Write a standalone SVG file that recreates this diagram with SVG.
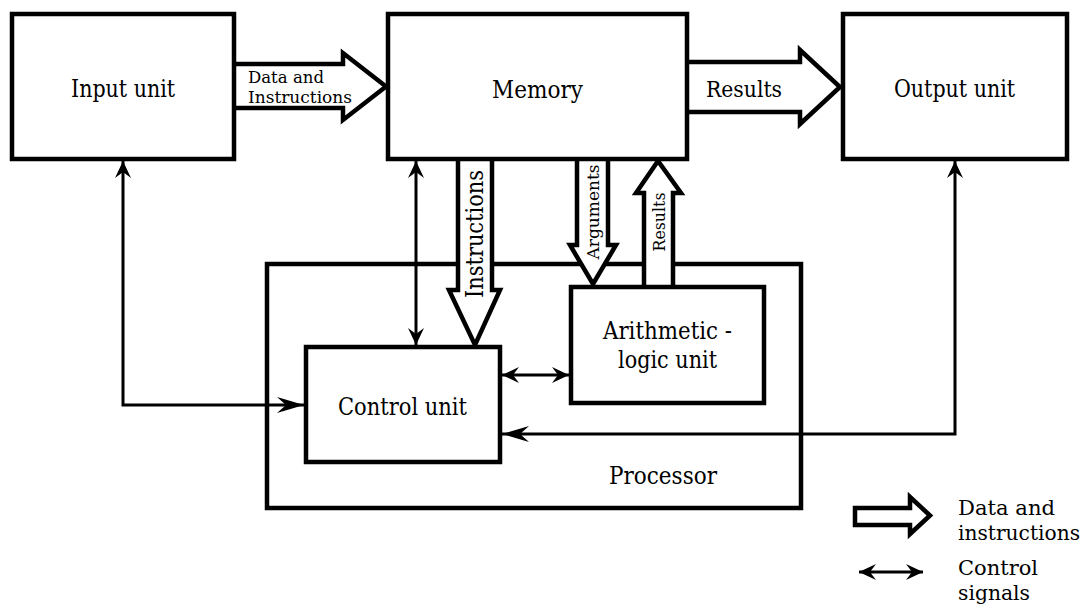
<svg xmlns="http://www.w3.org/2000/svg" width="1087" height="608" viewBox="0 0 1087 608">
<style>
.box{fill:#fff;stroke:#000;stroke-width:4.5}
.fat{fill:#fff;stroke:#000;stroke-width:4.5;stroke-linejoin:miter}
.ln{fill:none;stroke:#000;stroke-width:3}
text{font-family:"DejaVu Serif","Liberation Serif",serif;fill:#000}
.t{text-anchor:middle}
.big{font-size:25px}
.sm{font-size:17px}
.lg{font-size:21px}
</style>
<defs>
<marker id="ah" markerUnits="userSpaceOnUse" markerWidth="30" markerHeight="20" viewBox="-28 -10 30 20" refX="0" refY="0" orient="auto-start-reverse">
<path d="M0,0 L-27,-8 L-18,0 L-27,8 Z" fill="#000"/>
</marker>
<marker id="as" markerUnits="userSpaceOnUse" markerWidth="20" markerHeight="20" viewBox="-18 -10 20 20" refX="0" refY="0" orient="auto-start-reverse">
<path d="M0,0 L-17,-8 L-11,0 L-17,8 Z" fill="#000"/>
</marker>
</defs>
<rect width="1087" height="608" fill="#fff"/>
<g id="processor">
<rect class="box" x="267" y="264" width="534" height="244"/>
<text class="t big" x="663" y="484" textLength="108" lengthAdjust="spacingAndGlyphs">Processor</text>
</g>
<g id="connectors">
<path class="ln" d="M123,161 V405 H304" marker-start="url(#as)" marker-end="url(#ah)"/>
<path class="ln" d="M955,161 V434 H502" marker-start="url(#as)" marker-end="url(#ah)"/>
<path class="ln" d="M416,161 V345" marker-start="url(#as)" marker-end="url(#as)"/>
<path class="ln" d="M502,375 H569" marker-start="url(#as)" marker-end="url(#as)"/>
<polygon class="fat" points="232,64 343,64 343,53 386,86.5 343,120 343,108 232,108"/>
<polygon class="fat" points="685,62 800,62 800,50 840,87 800,124 800,112 685,112"/>
<polygon class="fat" points="458,157 492,157 492,290 500,290 475,345 449,290 458,290"/>
<polygon class="fat" points="577,157 608,157 608,245 616,245 593,284 570,245 577,245"/>
<polygon class="fat" points="644,289 673,289 673,193 681,193 658,161 636,193 644,193"/>
<text class="sm" x="248" y="83" textLength="76" lengthAdjust="spacingAndGlyphs">Data and</text>
<text class="sm" x="248" y="103" textLength="104" lengthAdjust="spacingAndGlyphs">Instructions</text>
<text class="t" font-size="22" x="744" y="97" textLength="76" lengthAdjust="spacingAndGlyphs">Results</text>
<text class="t" font-size="24" transform="translate(483,234) rotate(-90)" x="0" y="0" textLength="128" lengthAdjust="spacingAndGlyphs">Instructions</text>
<text class="t" font-size="17" transform="translate(599,212) rotate(-90)" x="0" y="0" textLength="95" lengthAdjust="spacingAndGlyphs">Arguments</text>
<text class="t" font-size="17" transform="translate(665,222) rotate(-90)" x="0" y="0" textLength="59" lengthAdjust="spacingAndGlyphs">Results</text>
</g>
<g id="input-unit">
<rect class="box" x="12" y="14" width="222" height="145"/>
<text class="t big" x="123" y="97" textLength="104" lengthAdjust="spacingAndGlyphs">Input unit</text>
</g>
<g id="memory">
<rect class="box" x="388" y="14" width="299" height="145"/>
<text class="t big" x="537.5" y="98" textLength="91" lengthAdjust="spacingAndGlyphs">Memory</text>
</g>
<g id="output-unit">
<rect class="box" x="843" y="14" width="224" height="145"/>
<text class="t big" x="954.5" y="97" textLength="121" lengthAdjust="spacingAndGlyphs">Output unit</text>
</g>
<g id="control-unit">
<rect class="box" x="306" y="347" width="194" height="115"/>
<text class="t big" x="402.5" y="415" textLength="129" lengthAdjust="spacingAndGlyphs">Control unit</text>
</g>
<g id="alu">
<rect class="box" x="571" y="287" width="193" height="116"/>
<text class="t big" x="667.5" y="339" textLength="129" lengthAdjust="spacingAndGlyphs">Arithmetic -</text>
<text class="t big" x="667.5" y="368" textLength="99" lengthAdjust="spacingAndGlyphs">logic unit</text>
</g>
<g id="legend">
<polygon class="fat" points="855,508 910,508 910,497 930,515.5 910,534 910,525 855,525"/>
<text class="lg" x="958" y="515" textLength="97" lengthAdjust="spacingAndGlyphs">Data and</text>
<text class="lg" x="958" y="540" textLength="122" lengthAdjust="spacingAndGlyphs">instructions</text>
<path class="ln" d="M859,572 H923" marker-start="url(#as)" marker-end="url(#as)"/>
<text class="lg" x="958" y="575" textLength="80" lengthAdjust="spacingAndGlyphs">Control</text>
<text class="lg" x="958" y="600" textLength="72" lengthAdjust="spacingAndGlyphs">signals</text>
</g>
</svg>
